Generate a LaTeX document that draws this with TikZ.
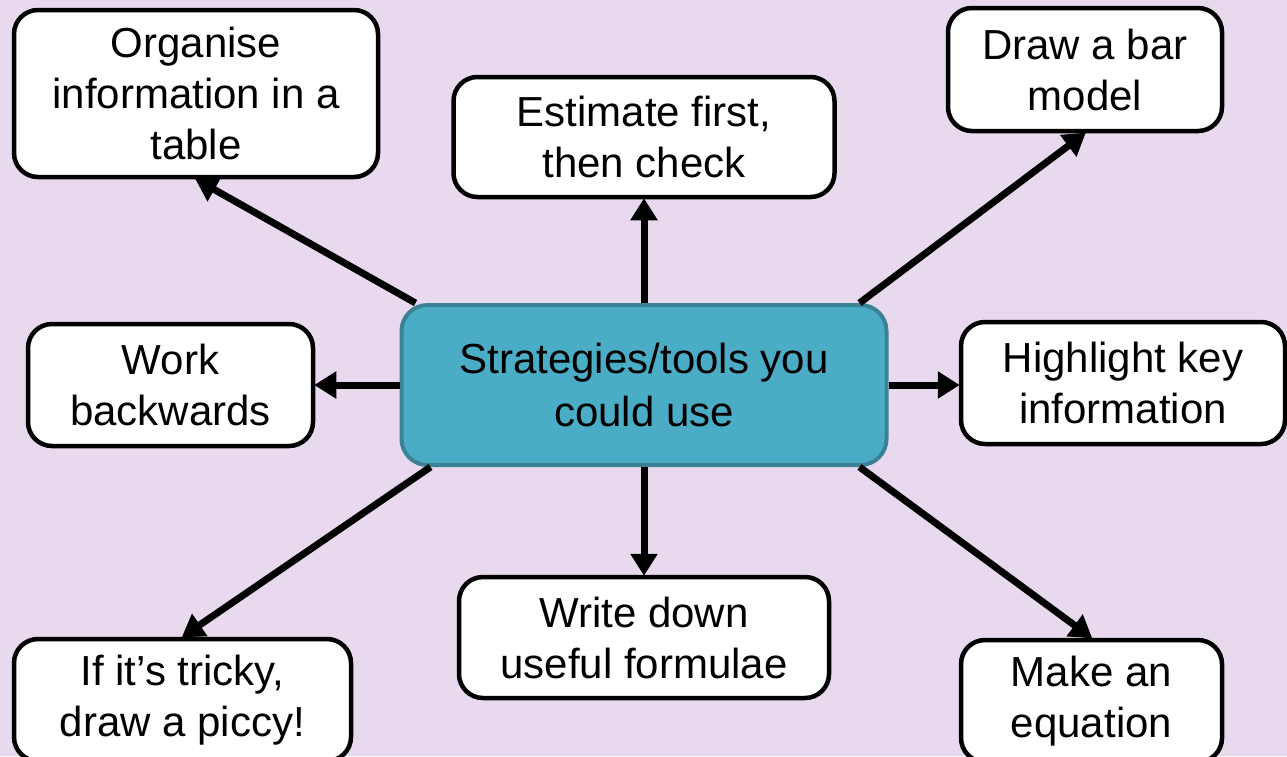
\documentclass[tikz,border=0pt]{standalone}
\usepackage{fontspec}
\setmainfont{Liberation Sans}
\usetikzlibrary{calc,arrows.meta}
\definecolor{bg}{HTML}{E9D9EF}
\definecolor{teal}{HTML}{4BACC6}
\definecolor{tealedge}{HTML}{3C8296}
\tikzset{
  box/.style={draw=black, line width=4.5pt, fill=white, rounded corners=24pt,
    align=center, inner sep=0pt, font=\fontsize{42}{51}\selectfont},
  hub/.style={draw=tealedge, line width=4pt, fill=teal, rounded corners=26pt,
    align=center, inner sep=0pt, font=\fontsize{42}{53}\selectfont},
  conn/.style={line width=7pt, -{Triangle[length=22pt,width=26pt]}, shorten >=-1pt}
}
\begin{document}
\begin{tikzpicture}[x=1pt,y=-1pt]
\path[use as bounding box] (0,0) rectangle (1287,756);
\clip (0,0) rectangle (1287,756);
\fill[bg] (0,0) rectangle (1287,756);
\node[hub, minimum width=485pt, minimum height=160pt] (c) at (644,385) {Strategies/tools you\\could use};
\node[box, minimum width=364pt, minimum height=167pt] (org) at (196,93.5) {Organise\\information in a\\table};
\node[box, minimum width=381pt, minimum height=120pt] (est) at (644,137) {Estimate first,\\then check};
\node[box, minimum width=274pt, minimum height=123pt] (bar) at (1085,69.5) {Draw a bar\\model};
\node[box, minimum width=285pt, minimum height=122pt] (work) at (170.5,385) {Work\\backwards};
\node[box, minimum width=324pt, minimum height=122pt] (hl) at (1123,383) {Highlight key\\information};
\node[box, minimum width=370pt, minimum height=121pt] (form) at (644,637.5) {Write down\\useful formulae};
\node[box, minimum width=337pt, minimum height=122pt] (pic) at (182.5,700) {If it’s tricky,\\draw a piccy!};
\node[box, minimum width=261pt, minimum height=122pt] (eq) at (1091.5,701) {Make an\\equation};
\draw[conn] ($(c.north west)+(16,0)$) -- (org.south);
\draw[conn] (c.north) -- (est.south);
\draw[conn] ($(c.north east)+(-29,0)$) -- (bar.south);
\draw[conn] (c.west) -- (work.east);
\draw[conn] (c.east) -- (c.east -| hl.west);
\draw[conn] (c.south) -- (form.north);
\draw[conn] ($(c.south west)+(31,0)$) -- (pic.north);
\draw[conn] ($(c.south east)+(-29,0)$) -- (eq.north);
\end{tikzpicture}
\end{document}
